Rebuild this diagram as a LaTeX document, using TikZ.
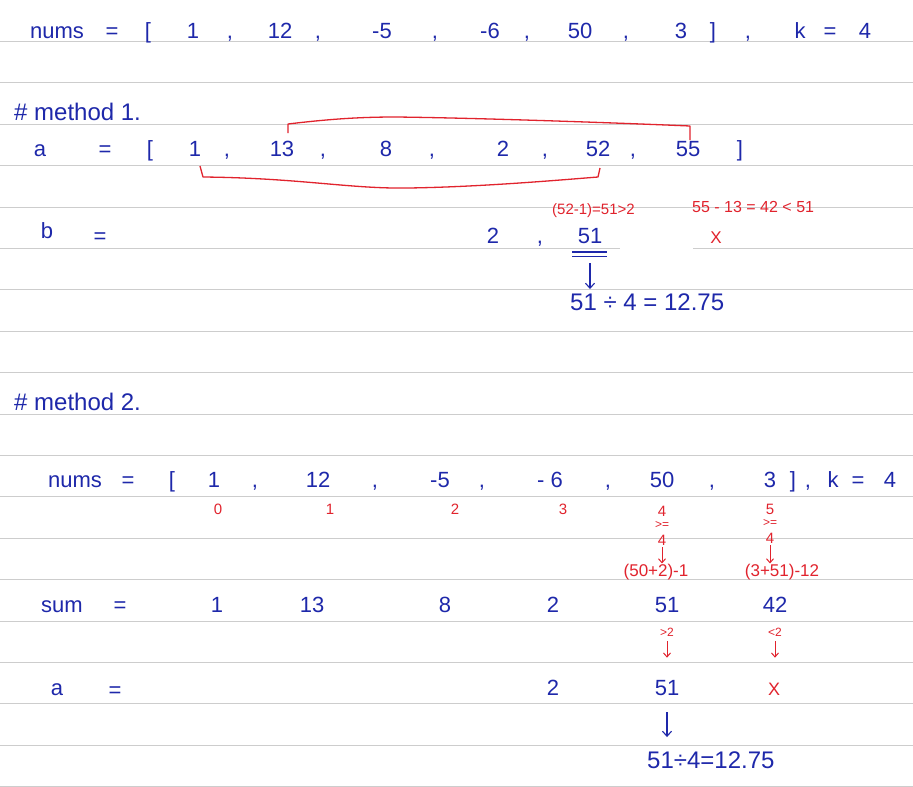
\documentclass[tikz,border=0pt]{standalone}
\usepackage{fontspec}
\setmainfont{Liberation Sans}
\usetikzlibrary{arrows.meta,calc}
\definecolor{ink}{RGB}{30,40,170}
\definecolor{rink}{RGB}{225,35,45}
\definecolor{rulec}{RGB}{205,205,205}
\begin{document}
\begin{tikzpicture}[x=1pt,y=-1pt,
  t/.style={anchor=base,inner sep=0pt,text=ink,font=\fontsize{22}{22}\selectfont},
  tw/.style={anchor=base west,inner sep=0pt,text=ink,font=\fontsize{24}{24}\selectfont},
  r/.style={anchor=base,inner sep=0pt,text=rink,font=\fontsize{15}{15}\selectfont},
  rs/.style={anchor=base,inner sep=0pt,text=rink,font=\fontsize{12}{12}\selectfont},
  ruleline/.style={draw=rulec,line width=0.9pt},
  barr/.style={draw=ink,line width=1.1pt,-{Straight Barb[length=5pt,width=9pt]}},
  rarr/.style={draw=rink,line width=1pt,-{Straight Barb[length=4pt,width=7pt]}},
  rline/.style={draw=rink,line width=1.3pt,line join=round}]
\useasboundingbox (0,0) rectangle (913,787);
\fill[white] (0,0) rectangle (913,787);
\foreach \i in {0,...,18} \draw[ruleline] (0,{41.5+41.4*\i}) -- (913,{41.5+41.4*\i});
% white-out patch
\fill[white] (620,223) rectangle (693,258);

% ---- row 1
\node[t] (n1) at (57,38) {nums};
\node[t] (n1eq) at (112,38) {=};
\node[t] (n1lb) at (148,38) {[};
\node[t] (n1a) at (193,38) {1};
\node[t] (n1c1) at (230,38) {,};
\node[t] (n1b) at (280,38) {12};
\node[t] (n1c2) at (318,38) {,};
\node[t] (n1c) at (382,38) {-5};
\node[t] (n1c3) at (435,38) {,};
\node[t] (n1d) at (490,38) {-6};
\node[t] (n1c4) at (527,38) {,};
\node[t] (n1e) at (580,38) {50};
\node[t] (n1c5) at (626,38) {,};
\node[t] (n1f) at (681,38) {3};
\node[t] (n1rb) at (713,38) {]};
\node[t] (n1c6) at (748,38) {,};
\node[t] (n1k) at (800,38) {k};
\node[t] (n1keq) at (830,38) {=};
\node[t] (n1kv) at (865,38) {4};

% ---- method 1
\node[tw] (m1) at (14,120) {\# method 1.};
\node[t] (aA) at (40,156) {a};
\node[t] (aeq) at (105,156) {=};
\node[t] (alb) at (150,156) {[};
\node[t] (a1) at (195,156) {1};
\node[t] (ac1) at (227,156) {,};
\node[t] (a13) at (282,156) {13};
\node[t] (ac2) at (323,156) {,};
\node[t] (a8) at (386,156) {8};
\node[t] (ac3) at (432,156) {,};
\node[t] (a2) at (503,156) {2};
\node[t] (ac4) at (545,156) {,};
\node[t] (a52) at (598,156) {52};
\node[t] (ac5) at (633,156) {,};
\node[t] (a55) at (688,156) {55};
\node[t] (arb) at (740,156) {]};
% red brackets
\draw[rline] (288,133) -- (288,124) .. controls (330,119) and (360,117) .. (396,117)
  .. controls (480,118) and (620,123) .. (690,126) -- (690,140);
\draw[rline] (200,166) -- (203,177) .. controls (300,178) and (350,189) .. (408,188)
  .. controls (480,187) and (560,180) .. (598,177) -- (600,168);

% row b
\node[t] (bB) at (47,238) {b};
\node[t] (beq) at (100,243) {=};
\node[t] (b2) at (493,243) {2};
\node[t] (bc) at (540,243) {,};
\node[t] (b51) at (590,243) {51};
\node[r,font=\fontsize{17}{17}\selectfont] (bX) at (716,243) {X};
\node[r,anchor=base west] (bn1) at (552,214) {(52-1)=51>2};
\node[r,anchor=base west,font=\fontsize{16}{16}\selectfont] (bn2) at (692,212) {55 - 13 = 42 < 51};
\draw[ink,line width=1.1pt] (572,252) -- (607,252);
\draw[ink,line width=1.1pt] (572,256.5) -- (607,256.5);
\node[tw] (bres) at (570,310) {51 ÷ 4 = 12.75};
\draw[barr,shorten >=4pt] ([yshift=-20pt]b51.base) -- (b51.base |- bres.north);

% ---- method 2
\node[tw] (m2) at (14,410) {\# method 2.};
\node[t] (n2) at (75,487) {nums};
\node[t] (n2eq) at (128,487) {=};
\node[t] (n2lb) at (172,487) {[};
\node[t] (n2a) at (214,487) {1};
\node[t] (n2c1) at (255,487) {,};
\node[t] (n2b) at (318,487) {12};
\node[t] (n2c2) at (375,487) {,};
\node[t] (n2c) at (440,487) {-5};
\node[t] (n2c3) at (482,487) {,};
\node[t] (n2d) at (550,487) {- 6};
\node[t] (n2c4) at (608,487) {,};
\node[t] (n2e) at (662,487) {50};
\node[t] (n2c5) at (712,487) {,};
\node[t] (n2f) at (770,487) {3};
\node[t] (n2rb) at (793,487) {]};
\node[t] (n2c6) at (808,487) {,};
\node[t] (n2k) at (833,487) {k};
\node[t] (n2keq) at (858,487) {=};
\node[t] (n2kv) at (890,487) {4};
% indices
\node[r] (i0) at (218,514) {0};
\node[r] (i1) at (330,514) {1};
\node[r] (i2) at (455,514) {2};
\node[r] (i3) at (563,514) {3};
% column 50
\node[r] (c4a) at (662,516) {4};
\node[rs] (c4g) at (662,528) {>=};
\node[r] (c4b) at (662,545) {4};
\node[r,font=\fontsize{17}{17}\selectfont] (c4e) at (656,576) {(50+2)-1};
\draw[rarr] ([yshift=-2pt]c4b.south) -- (c4b.south |- c4e.north);
% column 3
\node[r] (c5a) at (770,514) {5};
\node[rs] (c5g) at (770,526) {>=};
\node[r] (c5b) at (770,543) {4};
\node[r,font=\fontsize{17}{17}\selectfont] (c5e) at (782,576) {(3+51)-12};
\draw[rarr] ([yshift=-2pt]c5b.south) -- (c5b.south |- c5e.north);

% sum row
\node[t] (sS) at (62,612) {sum};
\node[t] (seq) at (120,612) {=};
\node[t] (s1) at (217,612) {1};
\node[t] (s13) at (312,612) {13};
\node[t] (s8) at (445,612) {8};
\node[t] (s2) at (553,612) {2};
\node[t] (s51) at (667,612) {51};
\node[t] (s42) at (775,612) {42};
\node[rs] (sg) at (667,636) {>2};
\node[rs] (sl) at (775,636) {<2};

% a row
\node[t] (qA) at (57,695) {a};
\node[t] (qeq) at (115,697) {=};
\node[t] (q2) at (553,695) {2};
\node[t] (q51) at (667,695) {51};
\node[r,font=\fontsize{18}{18}\selectfont] (qX) at (774,695) {X};
\draw[rarr] ([yshift=-5pt]sg.south) -- ([yshift=22pt]q51.north);
\draw[rarr] ([yshift=-5pt]sl.south) -- ([yshift=22pt]q51.north -| sl.south);

\node[tw] (qres) at (647,768) {51÷4=12.75};
\draw[barr] ([yshift=-17pt]q51.base) -- ([yshift=14pt]q51.base |- qres.north);
\end{tikzpicture}
\end{document}
